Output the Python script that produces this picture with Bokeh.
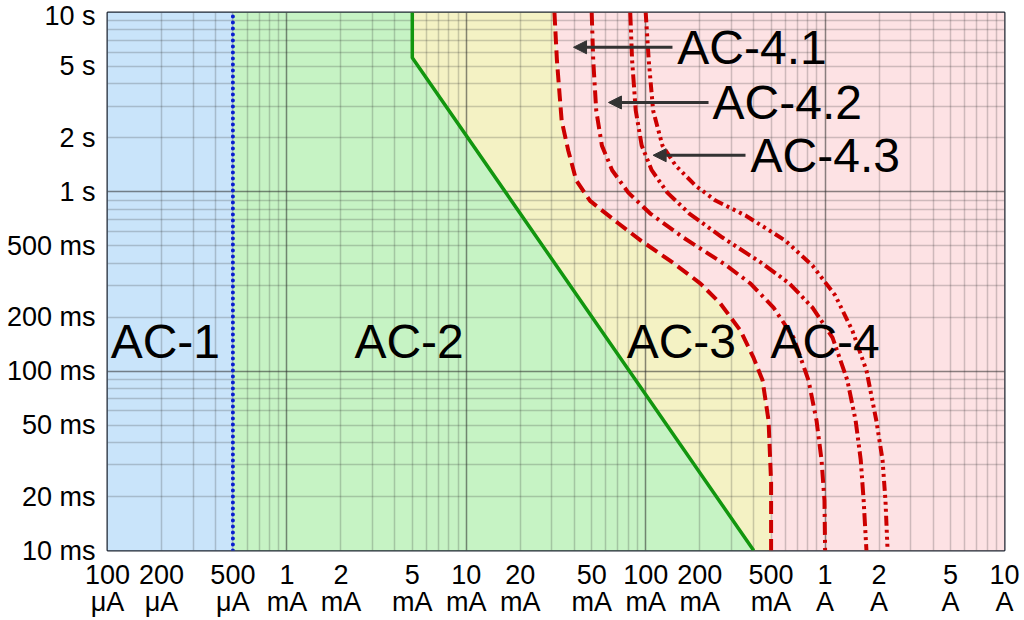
from bokeh.plotting import figure
from bokeh.models import Range1d, FixedTicker, Arrow, NormalHead, Label
from bokeh.embed import file_html
from bokeh.resources import INLINE

# ---------------- data (current in mA, time in ms) ----------------
x_ticks = [0.1, 0.2, 0.5, 1, 2, 5, 10, 20, 50, 100, 200, 500, 1000, 2000, 5000, 10000]
x_tick_labels = ["100\nμA", "200\nμA", "500\nμA", "1\nmA", "2\nmA", "5\nmA", "10\nmA",
                 "20\nmA", "50\nmA", "100\nmA", "200\nmA", "500\nmA", "1\nA", "2\nA",
                 "5\nA", "10\nA"]
y_ticks = [10, 20, 50, 100, 200, 500, 1000, 2000, 5000, 10000]
y_tick_labels = ["10 ms", "20 ms", "50 ms", "100 ms", "200 ms", "500 ms",
                 "1 s", "2 s", "5 s", "10 s"]
x_decades = [0.1, 1, 10, 100, 1000, 10000]
y_decades = [10, 100, 1000, 10000]
mantissas = [2, 3, 4, 5, 6, 7, 8, 9]

# boundary AC-1 / AC-2 (line a)
a_mA = 0.5
# boundary AC-2 / AC-3 (line b)
b_mA = [5, 5, 400]
b_ms = [10000, 5600, 10]
# curve c1 (AC-3 / AC-4)
c1_mA = [31, 32, 34, 37, 41, 49, 70, 94, 143, 202, 261, 338, 399, 448, 484, 500, 500]
c1_ms = [10000, 5400, 2500, 1700, 1160, 890, 670, 535, 400, 308, 238, 168, 119, 89, 53, 24, 10]
# curve c2 (AC-4.1 / AC-4.2)
c2_mA = [50, 51, 53, 57, 65, 80, 106, 162, 272, 384, 516, 667, 808, 896, 955, 992, 1000]
c2_ms = [10000, 5400, 2840, 1810, 1320, 990, 757, 556, 398, 308, 226, 154, 89, 53, 32, 19, 10]
# curve c3
c3_mA = [82, 84, 88, 95, 108, 132, 175, 268, 448, 633, 851, 1100, 1330, 1480, 1580, 1640, 1700]
c3_ms = [10000, 5400, 2840, 1810, 1320, 990, 757, 556, 398, 308, 226, 154, 89, 53, 32, 19, 10]
# curve c4
c4_mA = [100, 104, 110, 124, 147, 190, 245, 360, 600, 850, 1140, 1420, 1700, 1930, 2090, 2170, 2230]
c4_ms = [10000, 5400, 2840, 1810, 1400, 1080, 894, 738, 535, 388, 264, 168, 101, 53, 32, 19, 10]

x_min, x_max = 0.1, 10000
y_min, y_max = 10, 10000

# zone labels
zone_names = ["AC-1", "AC-2", "AC-3", "AC-4"]
zone_mA = [0.21, 4.8, 158, 1000]
zone_ms = [146, 146, 146, 146]
# sub-zone labels with arrows
sub_names = ["AC-4.1", "AC-4.2", "AC-4.3"]
sub_text_mA = [150, 236, 384]
sub_ms = [6400, 3150, 1600]
sub_tail_mA = [141, 224, 360]
sub_tip_mA = [39.6, 62, 110]

FONT = "Liberation Sans"
TICK_SIZE = "27px"

p = figure(width=1024, height=620, x_axis_type="log", y_axis_type="log",
           x_range=Range1d(x_min, x_max), y_range=Range1d(y_min, y_max),
           output_backend="svg", toolbar_location=None,
           min_border_left=107, min_border_right=20, min_border_top=12, min_border_bottom=70)

# ---- zone fills ----
blue_x = [x_min, a_mA, a_mA, x_min]
blue_y = [y_min, y_min, y_max, y_max]
green_x = [a_mA] + b_mA + [a_mA]
green_y = [y_max] + b_ms + [y_min]
yellow_x = b_mA + c1_mA[::-1]
yellow_y = b_ms + c1_ms[::-1]
pink_x = c1_mA + [x_max, x_max]
pink_y = c1_ms + [y_min, y_max]

p.patch(blue_x, blue_y, fill_color="#c9e4fa", line_color=None, level="image")
p.patch(green_x, green_y, fill_color="#c6f3c4", line_color=None, level="image")
p.patch(yellow_x, yellow_y, fill_color="#f4f2c4", line_color=None, level="image")
p.patch(pink_x, pink_y, fill_color="#fde2e4", line_color=None, level="image")

# ---- grids ----
x_minor = [d * m for d in x_decades[:-1] for m in mantissas]
y_minor = [d * m for d in y_decades[:-1] for m in mantissas]
p.xgrid.ticker = FixedTicker(ticks=x_decades, minor_ticks=x_minor)
p.ygrid.ticker = FixedTicker(ticks=y_decades, minor_ticks=y_minor)
for g in (p.xgrid, p.ygrid):
    g.grid_line_color = "#2a2a2a"
    g.grid_line_alpha = 0.55
    g.grid_line_width = 1.5
    g.minor_grid_line_color = "#2a2a2a"
    g.minor_grid_line_alpha = 0.22
    g.minor_grid_line_width = 1.5

# ---- boundary lines ----
p.line([a_mA, a_mA], [y_min, y_max], line_color="#0a1fd0", line_width=4,
       line_dash="0 6", line_cap="round")
p.line(b_mA, b_ms, line_color="#12960f", line_width=3.5)
red = "#cc0000"
p.line(c1_mA, c1_ms, line_color=red, line_width=4, line_dash="13 6")
p.line(c2_mA, c2_ms, line_color=red, line_width=4, line_dash="13 5 3 5")
p.line(c3_mA, c3_ms, line_color=red, line_width=4, line_dash="13 4 3 4 3 4")
p.line(c4_mA, c4_ms, line_color=red, line_width=4, line_dash="10 4 3 4 3 4 3 4")

# ---- labels ----
for name, xm, ym in zip(zone_names, zone_mA, zone_ms):
    p.add_layout(Label(x=xm, y=ym, text=name, text_font=FONT, text_font_size="48px",
                       text_align="center", text_baseline="middle", text_color="black"))
for name, xt, ym, xtail, xtip in zip(sub_names, sub_text_mA, sub_ms, sub_tail_mA, sub_tip_mA):
    p.add_layout(Arrow(end=NormalHead(size=13, fill_color="#333333", line_color="#333333"),
                       x_start=xtail, y_start=ym, x_end=xtip, y_end=ym,
                       line_color="#333333", line_width=3))
    p.add_layout(Label(x=xt, y=ym, text=name, text_font=FONT, text_font_size="48px",
                       text_align="left", text_baseline="middle", text_color="black"))

# ---- axes ----
p.xaxis.ticker = FixedTicker(ticks=x_ticks)
p.yaxis.ticker = FixedTicker(ticks=y_ticks)
p.xaxis.major_label_overrides = dict(zip(x_ticks, x_tick_labels))
p.yaxis.major_label_overrides = dict(zip(y_ticks, y_tick_labels))
for ax in (p.xaxis, p.yaxis):
    ax.axis_line_color = None
    ax.major_tick_line_color = None
    ax.minor_tick_line_color = None
    ax.major_label_text_font = FONT
    ax.major_label_text_font_size = TICK_SIZE
    ax.major_label_text_color = "black"
p.xaxis.major_label_text_line_height = 0.9
p.xaxis.major_label_standoff = 3
p.yaxis.major_label_standoff = 6

p.outline_line_color = "#1c2430"
p.outline_line_width = 2
p.background_fill_color = "white"
p.border_fill_color = "white"

open("out.html", "w").write(file_html(p, INLINE))
